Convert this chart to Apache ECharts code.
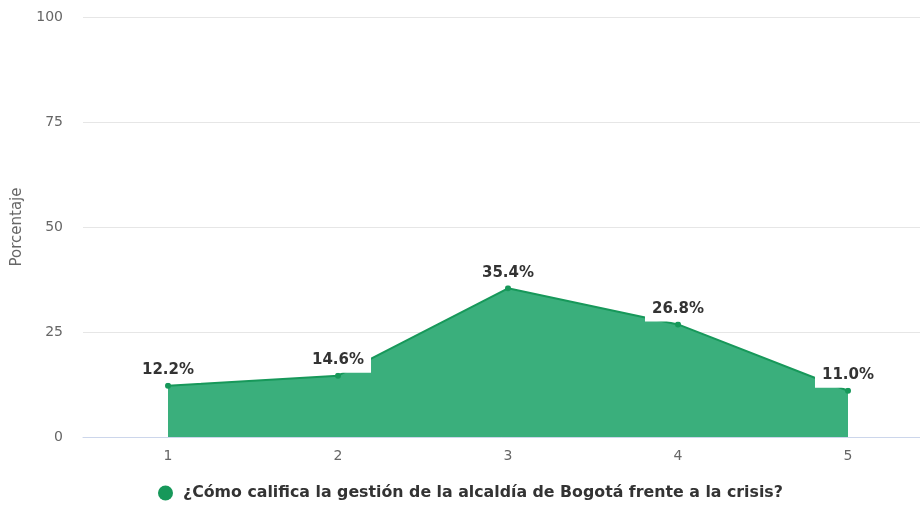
<!DOCTYPE html>
<html>
<head>
<meta charset="utf-8">
<script src="https://cdn.jsdelivr.net/npm/echarts@6/dist/echarts.min.js"></script>
<style>
  html, body { margin: 0; padding: 0; background: #fff; }
  #chart { width: 920px; height: 508px; }
</style>
</head>
<body>
<div id="chart"></div>
<script>
const categories = ['1', '2', '3', '4', '5'];
const values = [12.2, 14.6, 35.4, 26.8, 11.0];
const yTicks = [0, 25, 50, 75, 100];
const seriesName = '¿Cómo califica la gestión de la alcaldía de Bogotá frente a la crisis?';

const chart = echarts.init(document.getElementById('chart'));
chart.setOption({
  animation: false,
  textStyle: { fontFamily: 'DejaVu Sans' },
  grid: { left: 83, width: 850, top: 17, bottom: 71, outerBoundsMode: 'none', containLabel: false },
  legend: {
    bottom: 2,
    left: 153,
    icon: 'circle',
    itemWidth: 15,
    itemHeight: 15,
    itemGap: 8,
    data: [seriesName],
    textStyle: { fontSize: 15.8, fontWeight: 'bold', color: '#333', fontFamily: 'DejaVu Sans', padding: [0, 0, 0, 5] }
  },
  xAxis: {
    type: 'category',
    data: categories,
    boundaryGap: true,
    axisLine: { lineStyle: { color: '#ccd6eb' } },
    axisTick: { show: false },
    axisLabel: { color: '#666', fontSize: 14, margin: 12 }
  },
  yAxis: {
    type: 'value',
    min: yTicks[0],
    max: yTicks[yTicks.length - 1],
    interval: 25,
    name: 'Porcentaje',
    nameLocation: 'middle',
    nameRotate: 90,
    nameGap: 58,
    nameTextStyle: { color: '#666', fontSize: 15 },
    axisLine: { show: false },
    axisTick: { show: false },
    axisLabel: { color: '#666', fontSize: 14, margin: 20 },
    splitLine: { lineStyle: { color: '#e6e6e6' } }
  },
  series: [{
    name: seriesName,
    type: 'line',
    data: values,
    color: '#0f9d58',
    symbol: 'circle',
    symbolSize: 6,
    lineStyle: { color: '#17985a', width: 2 },
    itemStyle: { color: '#17985a' },
    areaStyle: { color: '#3aaf7c', opacity: 1 },
    label: {
      show: true,
      position: 'top',
      distance: 0,
      formatter: p => p.value.toFixed(1) + '%',
      fontSize: 15,
      fontWeight: 'bold',
      color: '#333',
      backgroundColor: '#fff',
      padding: [4, 7, 5, 7]
    }
  }]
});
</script>
</body>
</html>
